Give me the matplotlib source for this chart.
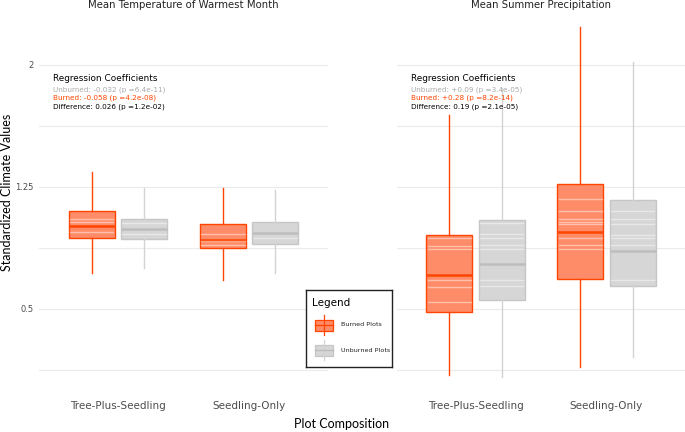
import matplotlib
matplotlib.use("Agg")
import matplotlib.pyplot as plt
from matplotlib.patches import Rectangle

categories = ["Tree-Plus-Seedling", "Seedling-Only"]
panel_titles = ["Mean Temperature of Warmest Month", "Mean Summer Precipitation"]

# box stats per category: [whisker low, q1, median, q3, whisker high]
temp_burned = [[0.72, 0.934, 1.012, 1.103, 1.340], [0.678, 0.873, 0.925, 1.025, 1.242]]
temp_unburned = [[0.75, 0.930, 0.990, 1.053, 1.246], [0.719, 0.898, 0.969, 1.035, 1.232]]
precip_burned = [[0.094, 0.484, 0.709, 0.957, 1.693], [0.141, 0.684, 0.971, 1.266, 2.232]]
precip_unburned = [[0.080, 0.553, 0.779, 1.047, 1.859], [0.207, 0.639, 0.857, 1.170, 2.020]]

# faint white lines seen inside the boxes
temp_burned_pts = [[1.051, 1.037, 0.975], [0.961, 0.920, 0.895]]
temp_unburned_pts = [[1.029, 0.959], [0.934]]
precip_burned_pts = [[0.934, 0.889, 0.869, 0.678, 0.637, 0.545],
                     [1.174, 1.102, 1.051, 1.037, 1.025, 0.934, 0.892, 0.869]]
precip_unburned_pts = [[1.027, 0.959, 0.934, 0.893, 0.869, 0.676, 0.641],
                       [1.102, 1.051, 1.025, 0.955, 0.934, 0.892, 0.676]]

coef_unburned = ["Unburned: -0.032 (p =6.4e-11)", "Unburned: +0.09 (p =3.4e-05)"]
coef_burned = ["Burned: -0.058 (p =4.2e-08)", "Burned: +0.28 (p =8.2e-14)"]
coef_diff = ["Difference: 0.026 (p =1.2e-02)", "Difference: 0.19 (p =2.1e-05)"]

y_ticks = [0.5, 1.25, 2]
y_tick_labels = ["0.5", "1.25", "2"]
y_minor = [0.125, 0.875, 1.625]

burn_fill = "#ff8c69"
burn_edge = "#ff4500"
unb_fill = "#d6d6d6"
unb_edge = "#c6c6c6"
unb_whisk = "#d3d3d3"
unb_med = "#bdbdbd"


def stats_of(vals):
    return [dict(whislo=v[0], q1=v[1], med=v[2], q3=v[3], whishi=v[4], fliers=[]) for v in vals]


def draw_boxes(ax, vals, pts, offset, fill, edge, whisk, med):
    pos = [i + 1 + offset for i in range(len(vals))]
    ax.bxp(stats_of(vals), positions=pos, widths=0.35, patch_artist=True,
           showcaps=False, showfliers=False,
           boxprops=dict(facecolor=fill, edgecolor=edge, linewidth=1.0),
           whiskerprops=dict(color=whisk, linewidth=1.0),
           medianprops=dict(color=med, linewidth=1.8), zorder=3)
    for p, ys in zip(pos, pts):
        for y in ys:
            ax.plot([p - 0.165, p + 0.165], [y, y], color="white", alpha=0.45,
                    linewidth=1.0, zorder=4)


fig = plt.figure(figsize=(6.85, 4.32), dpi=100)
ybot, yh = 0.0852, 0.8886
axes = [fig.add_axes([0.0569, ybot, 0.4219, yh]), fig.add_axes([0.5796, ybot, 0.4204, yh])]
data = [(temp_burned, temp_unburned, temp_burned_pts, temp_unburned_pts),
        (precip_burned, precip_unburned, precip_burned_pts, precip_unburned_pts)]

for k, ax in enumerate(axes):
    b, u, bp, up = data[k]
    for y in y_ticks + y_minor:
        ax.axhline(y, color="#ebebeb", linewidth=0.8, zorder=0)
    draw_boxes(ax, b, bp, -0.2, burn_fill, burn_edge, burn_edge, burn_edge)
    draw_boxes(ax, u, up, 0.2, unb_fill, unb_edge, unb_whisk, unb_med)
    ax.set_xlim(0.4, 2.6)
    ax.set_ylim(-0.03, 2.33)
    ax.set_xticks([1, 2])
    ax.set_xticklabels(categories, fontsize=7.5, color="#4d4d4d")
    ax.set_yticks(y_ticks)
    if k == 0:
        ax.set_yticklabels(y_tick_labels, fontsize=6, color="#4d4d4d")
    else:
        ax.set_yticklabels([])
    ax.tick_params(length=0, pad=4)
    for s in ax.spines.values():
        s.set_visible(False)
    ax.patch.set_alpha(0)
    fig.text(ax.get_position().x0 + ax.get_position().width / 2, 1 - 5.5 / 432,
             panel_titles[k], ha="center", va="center", fontsize=7.3, color="#222222")
    ax.text(0.048, 0.824, "Regression Coefficients", transform=ax.transAxes,
            fontsize=6.4, color="black", va="center")
    ax.text(0.048, 0.795, coef_unburned[k], transform=ax.transAxes, fontsize=5.2,
            color="#aaaaaa", va="center")
    ax.text(0.048, 0.774, coef_burned[k], transform=ax.transAxes, fontsize=5.2,
            color=burn_edge, va="center")
    ax.text(0.048, 0.752, coef_diff[k], transform=ax.transAxes, fontsize=5.2,
            color="black", va="center")

fig.text(7 / 685, 1 - 192 / 432, "Standardized Climate Values", rotation=90,
         ha="center", va="center", fontsize=9, family="Lato")
fig.text(342 / 685, 1 - 424 / 432, "Plot Composition", ha="center", va="center",
         fontsize=9, family="Lato")

# legend panel
lg = fig.add_axes([305.7 / 685, 1 - 367.3 / 432, 86 / 685, 77.3 / 432])
lg.set_xlim(0, 86)
lg.set_ylim(77.3, 0)
lg.set_xticks([])
lg.set_yticks([])
for s in lg.spines.values():
    s.set_color("#222222")
    s.set_linewidth(1.0)
lg.text(6, 13, "Legend", fontsize=7.5, va="center")
for yc, fc, ec, wc, mc, lab in [(35, burn_fill, burn_edge, burn_edge, burn_edge, "Burned Plots"),
                                (60, unb_fill, unb_edge, unb_whisk, unb_med, "Unburned Plots")]:
    lg.plot([18, 18], [yc - 10, yc + 10], color=wc, linewidth=0.9)
    lg.add_patch(Rectangle((9, yc - 5.5), 18, 11, facecolor=fc, edgecolor=ec, linewidth=0.9))
    lg.plot([9, 27], [yc, yc], color=mc, linewidth=1.0)
    lg.text(35, yc, lab, fontsize=4.6, va="center", color="#222222")

fig.savefig("out.png", dpi=100)
